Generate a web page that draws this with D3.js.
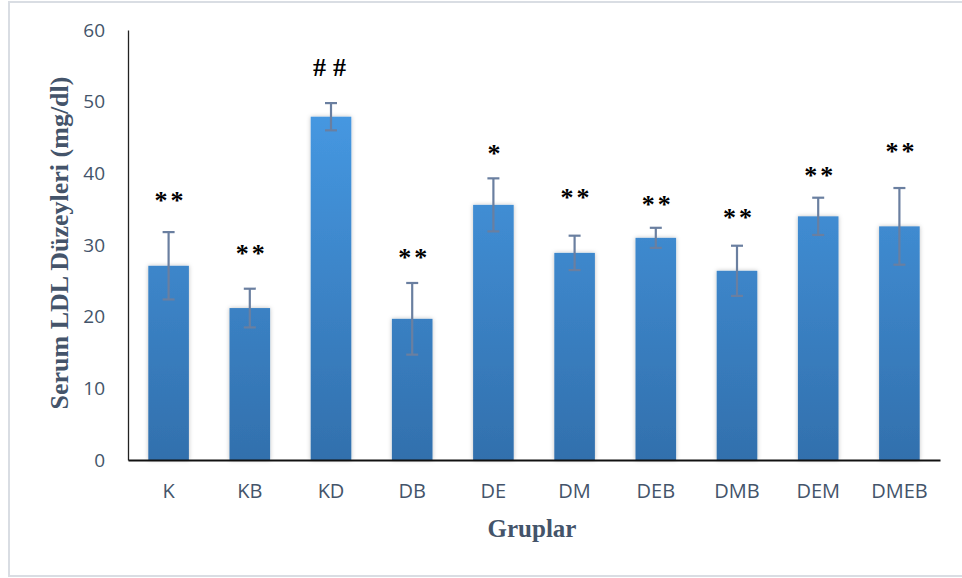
<!DOCTYPE html>
<html><head><meta charset="utf-8">
<script src="https://cdn.jsdelivr.net/npm/d3@7/dist/d3.min.js"></script>
<style>body{margin:0;background:#fff}svg{display:block}</style>
</head><body>
<svg id="c" width="962" height="578"></svg>
<script>
const categories = ["K","KB","KD","DB","DE","DM","DEB","DMB","DEM","DMEB"];
const means = [27.1, 21.2, 47.9, 19.7, 35.6, 28.9, 31.0, 26.4, 34.0, 32.6];
const errors = [4.7, 2.7, 1.9, 5.0, 3.7, 2.4, 1.4, 3.5, 2.6, 5.35];
const marks = ["**","**","##","**","*","**","**","**","**","**"];
const markValues = [35.0, 27.6, 53.6, 27.1, 41.6, 35.5, 34.4, 32.6, 38.5, 41.8];
const yTicks = [0,10,20,30,40,50,60];
const yTitle = "Serum LDL Düzeyleri (mg/dl)";
const xTitle = "Gruplar";

const svg = d3.select("#c");
const m = {l:128, r:940, t:30, b:460};
svg.append("rect").attr("x",9).attr("y",2).attr("width",960).attr("height",574)
  .attr("fill","#fff").attr("stroke","#d9dde3").attr("stroke-width",2);

const x = d3.scaleBand().domain(categories).range([m.l,m.r]).paddingInner(0.5).paddingOuter(0.25);
const y = d3.scaleLinear().domain([0,60]).range([m.b,m.t]);

const defs = svg.append("defs");
const g = defs.append("linearGradient").attr("id","bg").attr("gradientUnits","userSpaceOnUse")
  .attr("x1",0).attr("y1",y(50)).attr("x2",0).attr("y2",y(0));
g.append("stop").attr("offset","0%").attr("stop-color","#4699e3");
g.append("stop").attr("offset","100%").attr("stop-color","#3270ad");
const f = defs.append("filter").attr("id","sh").attr("x","-30%").attr("y","-10%").attr("width","160%").attr("height","120%");
f.append("feDropShadow").attr("dx",0).attr("dy",0).attr("stdDeviation",2).attr("flood-color","#000").attr("flood-opacity",0.25);

svg.append("g").selectAll("rect").data(categories).join("rect")
  .attr("x",d=>x(d)).attr("width",x.bandwidth())
  .attr("y",(d,i)=>y(means[i])).attr("height",(d,i)=>y(0)-y(means[i]))
  .attr("fill","url(#bg)").attr("filter","url(#sh)");

// error bars
const eb = svg.append("g").attr("stroke","#6a7fa0").attr("stroke-width",2.2);
categories.forEach((c,i)=>{
  const cx = x(c)+x.bandwidth()/2;
  const hi = y(means[i]+errors[i]), lo = y(means[i]-errors[i]);
  eb.append("line").attr("x1",cx).attr("x2",cx).attr("y1",hi).attr("y2",lo);
  eb.append("line").attr("x1",cx-6).attr("x2",cx+6).attr("y1",hi).attr("y2",hi);
  eb.append("line").attr("x1",cx-6).attr("x2",cx+6).attr("y1",lo).attr("y2",lo);
});

// y axis
const ya = svg.append("g").attr("transform",`translate(${m.l},0)`)
  .call(d3.axisLeft(y).tickValues(yTicks).tickSize(0).tickPadding(23));
ya.select(".domain").attr("stroke","#222").attr("stroke-width",1.3);
ya.selectAll("text").attr("font-family","Open Sans").attr("font-size",19).attr("fill","#44546a");

// x axis
const xa = svg.append("g").attr("transform",`translate(0,${m.b})`)
  .call(d3.axisBottom(x).tickSize(0).tickPadding(24));
xa.select(".domain").attr("stroke","#111").attr("stroke-width",2);
xa.selectAll("text").attr("font-family","Open Sans").attr("font-size",20).attr("fill","#44546a");

// annotations
svg.append("g").selectAll("text").data(categories).join("text")
  .attr("x",d=>x(d)+x.bandwidth()/2+2).attr("y",(d,i)=>y(markValues[i]))
  .attr("text-anchor","middle").attr("font-family","Liberation Serif").attr("font-weight","bold")
  .attr("font-size",26).attr("letter-spacing",(d,i)=>marks[i][0]==="#"?7:3).attr("fill","#000")
  .text((d,i)=>marks[i]);

// titles
svg.append("text").attr("transform",`translate(68,243) rotate(-90)`)
  .attr("text-anchor","middle").attr("font-family","Liberation Serif").attr("font-weight","bold")
  .attr("font-size",26).attr("fill","#44546a").text(yTitle);
svg.append("text").attr("x",532).attr("y",537).attr("text-anchor","middle")
  .attr("font-family","Liberation Serif").attr("font-weight","bold")
  .attr("font-size",25).attr("fill","#44546a").text(xTitle);
</script>
</body></html>
